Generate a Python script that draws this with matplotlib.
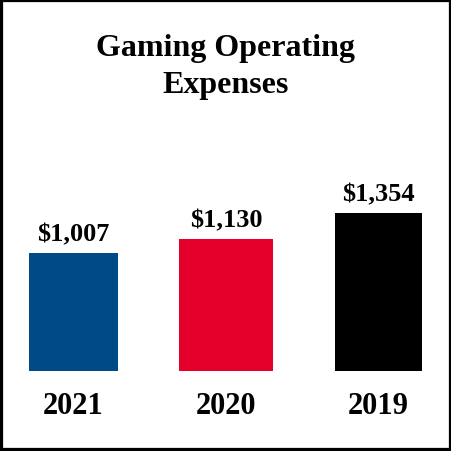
# Gaming operating expenses, one bar per year, boxed figure
import matplotlib
matplotlib.use("Agg")
import matplotlib.pyplot as plt
from matplotlib.patches import Rectangle

YEARS  = ["2021", "2020", "2019"]
VALUES = [1007, 1130, 1354]
LABELS = ["$1,007", "$1,130", "$1,354"]
COLORS = ["#004A87", "#E4002B", "#000000"]
TITLE  = "Gaming Operating\nExpenses"

plt.rcParams["font.family"] = ["Liberation Serif", "DejaVu Serif"]
plt.rcParams["font.weight"] = "bold"

fig = plt.figure(figsize=(4.52, 4.52), dpi=100)
ax = fig.add_axes([0, 80 / 452, 1, 272 / 452])
x = range(len(YEARS))
ax.bar(x, VALUES, width=[0.58, 0.62, 0.57], color=COLORS)
ax.set_xlim(-0.482, 2.482)
ax.set_ylim(0, 2330)
ax.axis("off")

for i, (v, lab, yr) in enumerate(zip(VALUES, LABELS, YEARS)):
    ax.annotate(lab, (i, v), xytext=(0, 14), textcoords="offset points",
                ha="center", va="center", fontsize=19, fontweight="bold")
    ax.annotate(yr, (i, 0), xytext=(0, -24.5), textcoords="offset points",
                ha="center", va="center", fontsize=22, fontweight="bold")

fig.text(0.5, 1 - 67 / 452, TITLE, ha="center", va="center", fontsize=23,
         fontweight="bold", linespacing=1.4)

# black frame around the whole picture
fig.patches.append(Rectangle((0, 0), 1, 1, transform=fig.transFigure,
                             fill=False, edgecolor="black", linewidth=4.5))

fig.savefig("out.png", dpi=100)
